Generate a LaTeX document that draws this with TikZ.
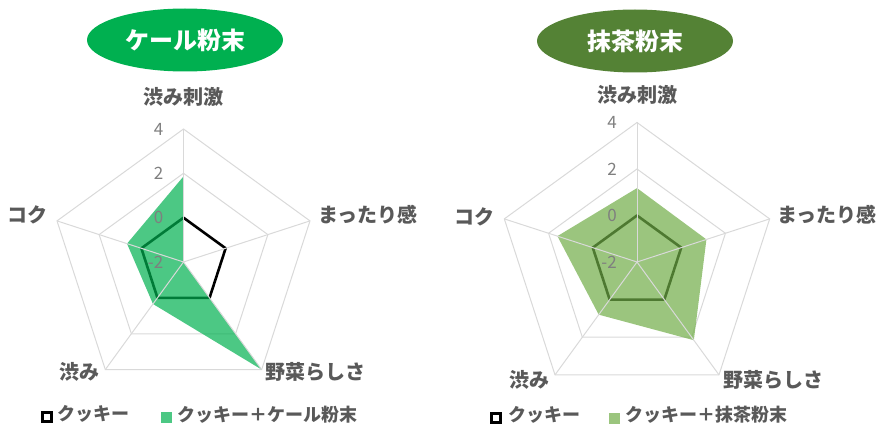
\documentclass[tikz,border=0pt]{standalone}
\usepackage{fontspec}
\setmainfont{Noto Sans CJK JP}
\usepackage{tikz}
\usetikzlibrary{shapes.geometric, positioning}

\definecolor{kale}{HTML}{00B050}
\definecolor{matcha}{HTML}{548235}
\definecolor{matchafill}{HTML}{70AD47}
\definecolor{gridgray}{HTML}{D9D9D9}
\definecolor{labelgray}{HTML}{595959}
\definecolor{tickgray}{HTML}{7F7F7F}

\begin{document}
\begin{tikzpicture}[x=1pt, y=-1pt,
    title/.style = {ellipse, minimum width=196pt, minimum height=63pt, inner sep=0pt,
                    text=white, font=\fontsize{24pt}{28pt}\selectfont\bfseries},
    axislabel/.style = {inner sep=0pt, text=labelgray, font=\fontsize{20pt}{24pt}\selectfont\bfseries},
    tick/.style = {anchor=east, inner sep=0pt, text=tickgray, font=\fontsize{17pt}{19pt}\selectfont},
    gridline/.style = {draw=gridgray, line width=1pt},
    cookieline/.style = {draw=black, line width=2.6pt, line join=round},
    keybox/.style = {draw, line width=2.8pt, minimum size=9.5pt, inner sep=0pt},
    keyfill/.style = {fill opacity=0.7, minimum size=11pt, inner sep=0pt},
    keytext/.style = {yshift=3pt, inner sep=0pt, text=labelgray, font=\fontsize{18pt}{20pt}\selectfont\bfseries}]
  \useasboundingbox (0,0) rectangle (876,425);

  % Titles.
  \node at (185, 40) [title, fill=kale, name=KaleTitle] {ケール粉末};
  \node at (635, 41) [title, fill=matcha, name=MatchaTitle] {抹茶粉末};

  % Kale chart.
  \begin{scope}[shift={(183.5,262)}, y=1pt]
    \foreach \r in {44.3, 88.7, 133}
      \draw [gridline] (90:\r) \foreach \a in {18, -54, -126, 162} { -- (\a:\r) } -- cycle;
    \draw [cookieline] (90:44.3) \foreach \a in {18, -54, -126, 162} { -- (\a:44.3) } -- cycle;
    \fill [kale, fill opacity=0.7] (90:85.6) -- (0,0) -- (-54:133) -- (-126:51.9) -- (162:59.4) -- cycle;
    \foreach \a in {90, 18, -54, -126, 162}
      \draw [gridline] (0,0) -- (\a:133);

    \node at (-20, 133)  [tick, name=KaleTickFour] {4};
    \node at (-20, 88.7) [tick, name=KaleTickTwo] {2};
    \node at (-20, 44.3) [tick, name=KaleTickZero] {0};
    \node at (-20, 0)    [tick, name=KaleTickMinus] {-2};

    \node at (0, 165)       [axislabel, name=KaleShigeki] {渋み刺激};
    \node at (134.5, 47)    [axislabel, anchor=west, name=KaleMattari] {まったり感};
    \node at (81.5, -110)   [axislabel, anchor=west, name=KaleYasai] {野菜らしさ};
    \node at (-83.5, -110)  [axislabel, anchor=east, name=KaleShibumi] {渋み};
    \node at (-135.5, 47)   [axislabel, anchor=east, name=KaleKoku] {コク};
  \end{scope}

  % Matcha chart.
  \begin{scope}[shift={(637,262)}, y=1pt]
    \foreach \r in {46.5, 93, 139.5}
      \draw [gridline] (90:\r) \foreach \a in {18, -54, -126, 162} { -- (\a:\r) } -- cycle;
    \draw [cookieline] (90:46.5) \foreach \a in {18, -54, -126, 162} { -- (\a:46.5) } -- cycle;
    \fill [matchafill, fill opacity=0.7] (90:73.9) -- (18:73) -- (-54:96.7) -- (-126:65.1) -- (162:83.7) -- cycle;
    \foreach \a in {90, 18, -54, -126, 162}
      \draw [gridline] (0,0) -- (\a:139.5);

    \node at (-20, 139.5) [tick, name=MatchaTickFour] {4};
    \node at (-20, 93)    [tick, name=MatchaTickTwo] {2};
    \node at (-20, 46.5)  [tick, name=MatchaTickZero] {0};
    \node at (-20, 0)     [tick, name=MatchaTickMinus] {-2};

    \node at (0, 167)     [axislabel, name=MatchaShigeki] {渋み刺激};
    \node at (140, 47)    [axislabel, anchor=west, name=MatchaMattari] {まったり感};
    \node at (86, -118)   [axislabel, anchor=west, name=MatchaYasai] {野菜らしさ};
    \node at (-87, -118)  [axislabel, anchor=east, name=MatchaShibumi] {渋み};
    \node at (-142, 45)   [axislabel, anchor=east, name=MatchaKoku] {コク};
  \end{scope}

  % Legends.
  \node at (47, 417) [keybox, name=KaleKeyCookie] {};
  \node [keytext, right=4pt of KaleKeyCookie, name=KaleKeyCookieText] {クッキー};
  \node at (166, 417.5) [keyfill, fill=kale, name=KaleKeyMix] {};
  \node [keytext, right=6pt of KaleKeyMix, name=KaleKeyMixText] {クッキー＋ケール粉末};

  \node at (496, 418) [keybox, name=MatchaKeyCookie] {};
  \node [keytext, right=6pt of MatchaKeyCookie, name=MatchaKeyCookieText] {クッキー};
  \node at (614, 418) [keyfill, fill=matchafill, name=MatchaKeyMix] {};
  \node [keytext, right=6pt of MatchaKeyMix, name=MatchaKeyMixText] {クッキー＋抹茶粉末};
\end{tikzpicture}
\end{document}
